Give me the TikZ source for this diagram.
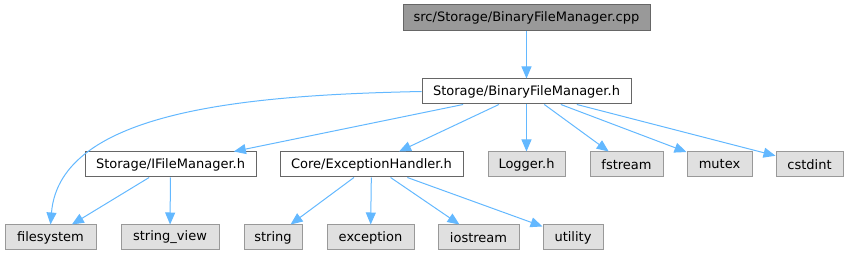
\documentclass[tikz,border=0pt]{standalone}
\usepackage{fontspec}
\setmainfont{DejaVu Sans}
\usepackage{xcolor}
\usepackage{tikz}
\usetikzlibrary{arrows.meta}

\definecolor{edgeblue}{HTML}{63B8FF}
\definecolor{rootfill}{HTML}{999999}
\definecolor{extfill}{HTML}{E0E0E0}

\begin{document}
\begin{tikzpicture}[x=1pt, y=-1pt, font=\fontsize{13}{15}\selectfont,
    file/.style={draw=black!60, line width=1pt, fill=white, rectangle, inner sep=0pt, minimum height=25pt},
    root/.style={file, fill=rootfill, minimum height=26pt},
    sys/.style={file, draw=rootfill, fill=extfill},
    dep/.style={draw=edgeblue, line width=1pt, -{Triangle[length=12pt, width=10pt]}}]
    \useasboundingbox (0,0) rectangle (848,256);

    % Source file
    \node[root, minimum width=247pt] (cpp) at (526.5,18) {src/Storage/BinaryFileManager.cpp};

    % Header of the source
    \node[file, minimum width=209pt] (bfm) at (526.5,91.5) {Storage/BinaryFileManager.h};

    % Second row
    \node[file, minimum width=171pt] (ifm) at (170.5,164.5) {Storage/IFileManager.h};
    \node[file, minimum width=183pt] (exc) at (371.5,164.5) {Core/ExceptionHandler.h};
    \node[sys, minimum width=77pt] (logger) at (526.5,164.5) {Logger.h};
    \node[sys, minimum width=73pt] (fstream) at (626.5,164.5) {fstream};
    \node[sys, minimum width=65pt] (mutex) at (719.5,164.5) {mutex};
    \node[sys, minimum width=67pt] (cstdint) at (809.5,164.5) {cstdint};

    % Third row
    \node[sys, minimum width=91pt] (filesystem) at (50.5,237.5) {filesystem};
    \node[sys, minimum width=98pt] (strview) at (170,237.5) {string\_view};
    \node[sys, minimum width=58pt] (string) at (273,237.5) {string};
    \node[sys, minimum width=87pt] (exception) at (370.5,237.5) {exception};
    \node[sys, minimum width=81pt] (iostream) at (478.5,237.5) {iostream};
    \node[sys, minimum width=60pt] (utility) at (573,237.5) {utility};

    % Includes
    \draw[dep] (cpp) -- (bfm);
    \draw[dep] (bfm.west) .. controls (250,95) and (60,110) .. (filesystem.north);
    \draw[dep] (bfm) -- (ifm);
    \draw[dep] (bfm) -- (exc);
    \draw[dep] (bfm) -- (logger);
    \draw[dep] (bfm) -- (fstream);
    \draw[dep] (bfm) -- (mutex);
    \draw[dep] (bfm) -- (cstdint);
    \draw[dep] (ifm) -- (filesystem);
    \draw[dep] (ifm) -- (strview);
    \draw[dep] (exc) -- (string);
    \draw[dep] (exc) -- (exception);
    \draw[dep] (exc) -- (iostream);
    \draw[dep] (exc) -- (utility);
\end{tikzpicture}
\end{document}
